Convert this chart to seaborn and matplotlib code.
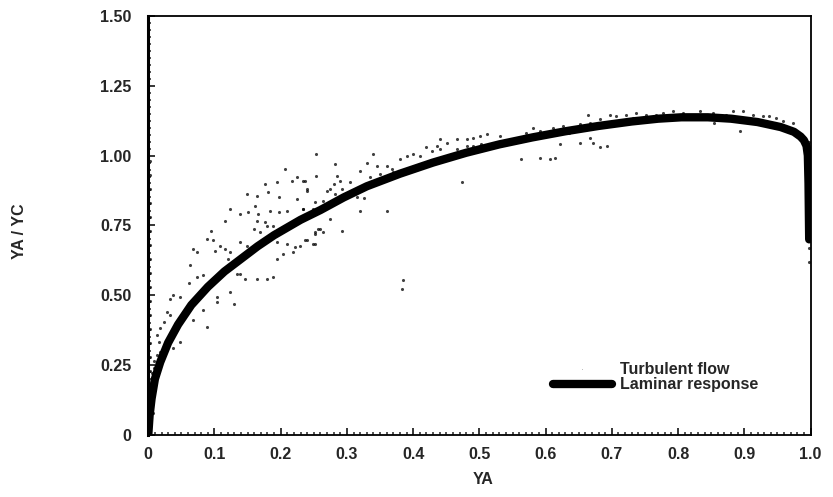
import numpy as np
import pandas as pd
import matplotlib
matplotlib.use("Agg")
import matplotlib.pyplot as plt
import seaborn as sns
from matplotlib.ticker import MultipleLocator

# laminar response curve
lam_x = [0.0, 0.002, 0.005, 0.010, 0.018, 0.030, 0.045, 0.065, 0.090, 0.115, 0.140,
         0.165, 0.190, 0.230, 0.260, 0.295, 0.330, 0.380, 0.430, 0.480, 0.530, 0.580,
         0.630, 0.680, 0.730, 0.770, 0.805, 0.845, 0.880, 0.920, 0.955, 0.975, 0.985,
         0.990, 0.994, 0.996, 0.997, 0.998]
lam_y = [0.0, 0.07, 0.13, 0.20, 0.26, 0.33, 0.395, 0.465, 0.53, 0.585, 0.63,
         0.675, 0.715, 0.77, 0.805, 0.85, 0.89, 0.935, 0.975, 1.01, 1.04, 1.065,
         1.087, 1.106, 1.122, 1.132, 1.137, 1.137, 1.132, 1.120, 1.102, 1.085, 1.068,
         1.055, 1.035, 1.00, 0.90, 0.70]

# turbulent flow samples (scatter dots)
turb_x = [0.207, 0.224, 0.234, 0.194, 0.217, 0.176, 0.181, 0.149, 0.164, 0.197, 0.224,
          0.239, 0.252, 0.234, 0.124, 0.139, 0.151, 0.161, 0.166, 0.184, 0.197, 0.209,
          0.164, 0.176, 0.179, 0.189, 0.159, 0.169, 0.116, 0.094, 0.089, 0.098, 0.109,
          0.116, 0.068, 0.073, 0.101, 0.121, 0.124, 0.129, 0.139, 0.149, 0.194, 0.209,
          0.222, 0.204, 0.219, 0.229, 0.239, 0.194, 0.063, 0.073, 0.061, 0.083, 0.038,
          0.033, 0.048, 0.028, 0.033, 0.023, 0.018, 0.013, 0.016, 0.018, 0.013, 0.008,
          0.038, 0.048, 0.068, 0.089, 0.083, 0.104, 0.104, 0.129, 0.134, 0.139, 0.146,
          0.164, 0.179, 0.189, 0.124, 0.252, 0.259, 0.249,
          0.511, 0.501, 0.491, 0.531, 0.466, 0.481, 0.440, 0.451, 0.436, 0.420, 0.428,
          0.440, 0.466, 0.481, 0.491, 0.503, 0.400, 0.390, 0.380, 0.410, 0.340, 0.330,
          0.345, 0.360, 0.368, 0.350, 0.370, 0.320, 0.335, 0.305, 0.290, 0.280, 0.275,
          0.270, 0.292, 0.282, 0.237, 0.254, 0.239, 0.264, 0.234, 0.249, 0.315, 0.325,
          0.360, 0.320, 0.275, 0.257, 0.264, 0.252, 0.292, 0.237, 0.252, 0.473, 0.385,
          0.383, 0.254, 0.282, 0.285,
          0.571, 0.581, 0.591, 0.611, 0.626, 0.641, 0.652, 0.664, 0.667, 0.682, 0.697,
          0.707, 0.722, 0.737, 0.752, 0.767, 0.777, 0.792, 0.807, 0.833, 0.853, 0.873,
          0.883, 0.898, 0.913, 0.928, 0.938, 0.948, 0.958, 0.973, 0.621, 0.652, 0.672,
          0.682, 0.692, 0.667, 0.563, 0.591, 0.606, 0.614, 0.855, 0.893, 0.812, 0.822,
          0.843, 0.863, 0.762, 0.732, 0.707, 0.636,
          0.002, 0.002, 0.002, 0.002, 0.002, 0.002, 0.002, 0.002, 0.002, 0.002, 0.002,
          0.002, 0.002, 0.002, 0.002, 0.002, 0.002, 0.002, 0.002, 0.002,
          0.004, 0.005, 0.006, 0.004, 0.007, 0.005, 0.008, 0.006, 0.009, 0.007,
          0.997, 0.997, 0.997, 0.997, 0.997, 0.997, 0.997, 0.997, 0.997, 0.997]
turb_y = [0.951, 0.922, 0.910, 0.904, 0.910, 0.898, 0.868, 0.862, 0.856, 0.850, 0.844,
          0.874, 0.833, 0.809, 0.809, 0.791, 0.797, 0.821, 0.791, 0.803, 0.797, 0.803,
          0.767, 0.761, 0.749, 0.749, 0.738, 0.726, 0.767, 0.731, 0.702, 0.696, 0.678,
          0.666, 0.666, 0.654, 0.660, 0.631, 0.654, 0.619, 0.690, 0.678, 0.690, 0.684,
          0.672, 0.648, 0.654, 0.678, 0.696, 0.631, 0.607, 0.565, 0.542, 0.571, 0.500,
          0.488, 0.494, 0.441, 0.429, 0.405, 0.381, 0.357, 0.334, 0.298, 0.286, 0.263,
          0.310, 0.334, 0.410, 0.387, 0.446, 0.494, 0.476, 0.470, 0.577, 0.577, 0.559,
          0.559, 0.559, 0.565, 0.512, 0.726, 0.738, 0.684,
          1.076, 1.070, 1.064, 1.070, 1.058, 1.058, 1.061, 1.046, 1.034, 1.029, 1.017,
          1.023, 1.023, 1.034, 1.034, 1.040, 1.005, 0.999, 0.987, 0.999, 1.005, 0.975,
          0.963, 0.963, 0.951, 0.934, 0.940, 0.945, 0.922, 0.904, 0.910, 0.898, 0.880,
          0.874, 0.880, 0.862, 0.910, 0.928, 0.880, 0.838, 0.809, 0.809, 0.850, 0.847,
          0.803, 0.803, 0.773, 0.738, 0.726, 0.720, 0.731, 0.696, 0.684, 0.904, 0.553,
          0.524, 1.005, 0.969, 0.928,
          1.082, 1.100, 1.088, 1.100, 1.106, 1.100, 1.112, 1.147, 1.118, 1.130, 1.147,
          1.141, 1.147, 1.153, 1.147, 1.147, 1.153, 1.159, 1.153, 1.159, 1.153, 1.147,
          1.159, 1.159, 1.147, 1.141, 1.141, 1.135, 1.123, 1.118, 1.040, 1.046, 1.046,
          1.029, 1.034, 1.064, 0.987, 0.993, 0.987, 0.993, 1.118, 1.088, 1.135, 1.141,
          1.135, 1.130, 1.130, 1.135, 1.123, 1.082,
          0.03, 0.08, 0.13, 0.18, 0.23, 0.28, 0.33, 0.38, 0.43, 0.48, 0.53,
          0.58, 0.63, 0.68, 0.73, 0.78, 0.83, 0.88, 0.93, 0.98,
          0.06, 0.10, 0.14, 0.17, 0.20, 0.22, 0.24, 0.12, 0.21, 0.08,
          0.62, 0.67, 0.72, 0.77, 0.82, 0.87, 0.92, 0.97, 1.01, 1.05]

x_ticks = [0, 0.1, 0.2, 0.3, 0.4, 0.5, 0.6, 0.7, 0.8, 0.9, 1.0]
x_labels = ["0", "0.1", "0.2", "0.3", "0.4", "0.5", "0.6", "0.7", "0.8", "0.9", "1.0"]
y_ticks = [0, 0.25, 0.5, 0.75, 1.0, 1.25, 1.5]
y_labels = ["0", "0.25", "0.50", "0.75", "1.00", "1.25", "1.50"]

sns.set_style("ticks")
plt.rcParams['font.family'] = ['Liberation Sans', 'DejaVu Sans']
plt.rcParams['font.weight'] = 'bold'

turb = pd.DataFrame({"YA": turb_x, "ratio": turb_y})
lam = pd.DataFrame({"YA": lam_x, "ratio": lam_y})

fig = plt.figure(figsize=(8.33, 4.97), dpi=100)
ax = fig.add_axes([0.178, 0.125, 0.795, 0.843])

sns.scatterplot(data=turb, x="YA", y="ratio", ax=ax, s=5, color="black",
                linewidth=0, alpha=0.75, label="Turbulent flow")
sns.lineplot(data=lam, x="YA", y="ratio", ax=ax, color="black", linewidth=6,
             estimator=None, sort=False, label="Laminar response")

ax.set_xlim(0, 1.0)
ax.set_ylim(0, 1.5)
ax.set_xticks(x_ticks)
ax.set_xticklabels(x_labels)
ax.set_yticks(y_ticks)
ax.set_yticklabels(y_labels)
ax.xaxis.set_minor_locator(MultipleLocator(0.01))
ax.yaxis.set_minor_locator(MultipleLocator(0.025))
ax.tick_params(which='both', direction='in', bottom=True, left=True, top=False, right=False)
ax.tick_params(which='major', length=5, width=1.3, labelsize=11.5)
ax.tick_params(axis='x', which='major', pad=9)
ax.tick_params(axis='y', which='major', pad=12)
ax.tick_params(which='minor', length=2.5, width=1.1)
for lbl in ax.get_xticklabels() + ax.get_yticklabels():
    lbl.set_fontweight('bold')

for side in ['left', 'right', 'top', 'bottom']:
    ax.spines[side].set_visible(True)
    ax.spines[side].set_linewidth(1.3)
    ax.spines[side].set_color("black")
ax.spines['left'].set_linewidth(2.2)

ax.set_xlabel("YA", fontsize=11.5, fontweight='bold')
ax.set_ylabel("YA / YC", fontsize=11.5, fontweight='bold')
ax.xaxis.set_label_coords(0.505, -0.088)
ax.yaxis.set_label_coords(-0.183, 0.485)

leg = ax.legend(loc='center left', bbox_to_anchor=(0.611, 0.138), frameon=False,
                fontsize=11.5, handlelength=3.7, handletextpad=0.5, labelspacing=0.05,
                borderpad=0, borderaxespad=0, markerscale=0.3)
for t in leg.get_texts():
    t.set_fontweight('bold')

fig.savefig("out.png", dpi=100)
